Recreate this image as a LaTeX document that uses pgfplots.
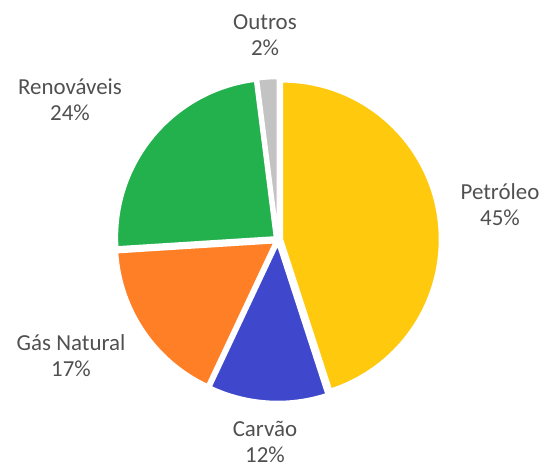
\documentclass[border=0pt]{standalone}
\usepackage{pgfplots}
\pgfplotsset{compat=1.18}
\usepackage{fontspec}
\setmainfont{Carlito}
\definecolor{cPet}{HTML}{FFC90E}
\definecolor{cCar}{HTML}{3F48CC}
\definecolor{cGas}{HTML}{FF7F27}
\definecolor{cRen}{HTML}{22B14C}
\definecolor{cOut}{HTML}{C3C3C3}
\definecolor{cTxt}{HTML}{505050}
% #1 cumulative percent before slice, #2 slice percent, #3 colour
\newcommand{\pieslice}[3]{%
  \fill[#3, draw=white, line width=2.5bp]
    ([shift={({90-3.6*(#1+#2/2)}:4bp)}]axis cs:278,227)
    -- ++({90-3.6*(#1)}:158bp)
    arc[start angle={90-3.6*(#1)}, end angle={90-3.6*(#1+#2)}, radius=158bp]
    -- cycle;}
\begin{document}
\begin{tikzpicture}
\begin{axis}[hide axis, scale only axis, width=544bp, height=467bp,
  xmin=0, xmax=544, ymin=0, ymax=467, clip=false]
\path (axis cs:0,0) rectangle (axis cs:544,467);
\pieslice{0}{45}{cPet}
\pieslice{45}{12}{cCar}
\pieslice{57}{17}{cGas}
\pieslice{74}{24}{cRen}
\pieslice{98}{2}{cOut}
\tikzset{lab/.style={align=center, text=cTxt, inner sep=1bp, font=\fontsize{23}{26}\selectfont}}
\node[lab] at (axis cs:500,262) {Petróleo\\45\%};
\node[lab] at (axis cs:265,25) {Carvão\\12\%};
\node[lab] at (axis cs:71,111) {Gás Natural\\17\%};
\node[lab] at (axis cs:70,367) {Renováveis\\24\%};
\node[lab] at (axis cs:265,432) {Outros\\2\%};
\end{axis}
\end{tikzpicture}
\end{document}
